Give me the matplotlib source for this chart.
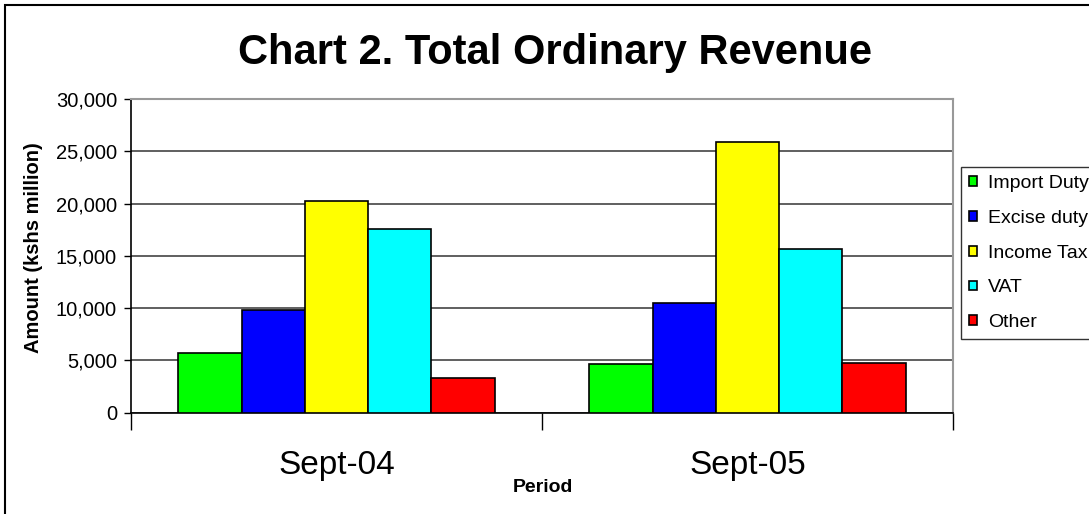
import matplotlib
matplotlib.use("Agg")
import matplotlib.pyplot as plt
import numpy as np
from matplotlib.patches import Rectangle
from matplotlib.ticker import FuncFormatter

plt.rcParams['font.family'] = ['Liberation Sans', 'DejaVu Sans']

periods = ["Sept-04", "Sept-05"]
series = ["Import Duty", "Excise duty", "Income Tax", "VAT", "Other"]
import_duty = [5700, 4650]
excise_duty = [9800, 10500]
income_tax = [20200, 25850]
vat = [17600, 15700]
other = [3300, 4800]
colors = ["#00FF00", "#0000FF", "#FFFF00", "#00FFFF", "#FF0000"]
yticks = [0, 5000, 10000, 15000, 20000, 25000, 30000]

values = [import_duty, excise_duty, income_tax, vat, other]

W, H = 1089, 514
fig = plt.figure(figsize=(W / 100, H / 100), dpi=100)
ax = fig.add_axes([131 / W, 1 - 412.7 / H, (953 - 131) / W, (412.7 - 99) / H])

n = len(series)
bw = 1 / (n + 1.5)
centers = np.arange(len(periods)) + 0.5
handles = []
for i, (name, vals, c) in enumerate(zip(series, values, colors)):
    x = centers + (i - (n - 1) / 2) * bw
    b = ax.bar(x, vals, width=bw, color=c, edgecolor='black', linewidth=1.2,
               label=name, zorder=3)
    handles.append(b)

ax.set_xlim(0, len(periods))
ax.set_ylim(0, 30000)
ax.set_yticks(yticks)
ax.yaxis.set_major_formatter(FuncFormatter(lambda v, p: f"{int(v):,}"))
ax.tick_params(axis='y', labelsize=14.5, length=5, width=1, direction='out', pad=5)
ax.yaxis.grid(True, color='#444444', linewidth=1.2, zorder=0)
ax.set_axisbelow(True)

ax.set_xticks([0, 1, 2])
ax.set_xticklabels([])
ax.set_xticks(centers, minor=True)
ax.set_xticklabels(periods, minor=True, fontsize=24)
ax.tick_params(axis='x', which='major', length=12, width=1, direction='out')
ax.tick_params(axis='x', which='minor', length=0, pad=27)

for s in ['left', 'bottom']:
    ax.spines[s].set_color('black')
    ax.spines[s].set_linewidth(1.2)
for s in ['top', 'right']:
    ax.spines[s].set_color('#999999')
    ax.spines[s].set_linewidth(1.5)

fig.text(34 / W, 1 - 248 / H, "Amount (kshs million)", fontsize=14.5, fontweight='bold',
         rotation=90, ha='center', va='center')
fig.text(543 / W, 1 - 487 / H, "Period", fontsize=14, fontweight='bold',
         ha='center', va='center')
fig.text(555 / W, 1 - 53 / H, "Chart 2. Total Ordinary Revenue", fontsize=30,
         fontweight='bold', ha='center', va='center')

leg = fig.legend(handles=handles, labels=series, loc='upper left',
                 bbox_to_anchor=(961 / W, 1 - 167 / H), frameon=True, fancybox=False,
                 fontsize=14, handlelength=0.4, handleheight=0.4, handletextpad=0.6,
                 labelspacing=0.92, borderpad=0.4, borderaxespad=0)
leg.get_frame().set_edgecolor('black')
leg.get_frame().set_linewidth(1.0)

fig.add_artist(Rectangle((5 / W, -0.1), 1.2, 1 - 5 / H + 0.1, transform=fig.transFigure,
                         fill=False, edgecolor='black', linewidth=1.5))

fig.savefig("out.png", dpi=100)
